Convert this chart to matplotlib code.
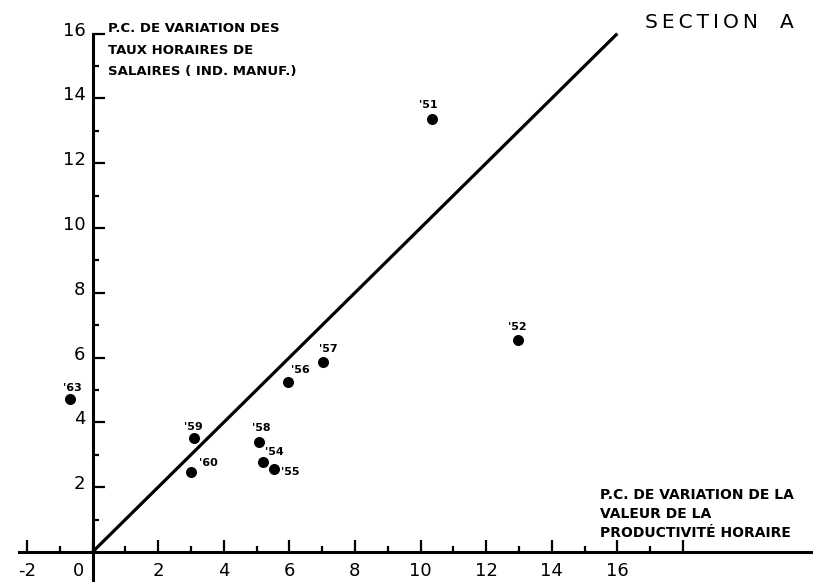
import matplotlib
matplotlib.use('Agg')
import matplotlib.pyplot as plt
from matplotlib.transforms import ScaledTranslation

# années et variations en p.c. (productivité horaire, taux horaires de salaires)
annees = ["'51", "'52", "'54", "'55", "'56", "'57", "'58", "'59", "'60", "'63"]
productivite = [10.35, 12.98, 5.21, 5.54, 5.97, 7.04, 5.09, 3.09, 3.00, -0.69]
salaires = [13.35, 6.54, 2.77, 2.56, 5.26, 5.87, 3.40, 3.51, 2.46, 4.72]

x_ticks = list(range(-2, 19, 2))
x_labels = ['-2', '0', '2', '4', '6', '8', '10', '12', '14', '16', '']
y_ticks = list(range(2, 17, 2))
y_labels = ['2', '4', '6', '8', '10', '12', '14', '16']

# décalage des étiquettes d'années (pixels)
decalages = [(-4, 14), (-1, 13), (11, 10), (16, -3), (12, 12),
             (5, 13), (2, 14), (0, 11), (17, 9), (3, 11)]

W, H = 813, 582
fig = plt.figure(figsize=(W / 100, H / 100), dpi=100)
ax = fig.add_axes([0, 0, 1, 1])

x0, sx = 92.5, 32.8
y0, sy = 552, 32.4
ax.set_xlim(-x0 / sx, (W - x0) / sx)
ax.set_ylim(-(H - y0) / sy, y0 / sy)

for s in ['top', 'right']:
    ax.spines[s].set_visible(False)
ax.spines['left'].set_position(('data', 0))
ax.spines['bottom'].set_position(('data', 0))
ax.spines['left'].set_bounds(ax.get_ylim()[0], 16)
ax.spines['bottom'].set_bounds(-2.25, ax.get_xlim()[1])
ax.spines['left'].set_linewidth(2.2)
ax.spines['bottom'].set_linewidth(2.2)

ax.set_xticks(x_ticks)
ax.set_xticklabels(x_labels)
ax.set_xticks(range(-1, 19, 2), minor=True)
ax.set_yticks(y_ticks)
ax.set_yticklabels(y_labels)
ax.set_yticks(range(1, 16, 2), minor=True)

ax.tick_params(which='major', direction='in', length=8.5, width=1.6, labelsize=13)
ax.tick_params(which='minor', direction='in', length=4, width=1.6)
ax.tick_params(axis='x', which='major', pad=7)
ax.tick_params(axis='y', which='major', pad=5)

# étiquettes de l'axe vertical un peu au-dessus des graduations
for t in ax.yaxis.get_major_ticks():
    t.label1.set_transform(t.label1.get_transform() + ScaledTranslation(0, 0.05, fig.dpi_scale_trans))
# le zéro à gauche de l'axe
t0 = ax.xaxis.get_major_ticks()[1]
t0.label1.set_transform(t0.label1.get_transform() + ScaledTranslation(-0.145, 0, fig.dpi_scale_trans))

# droite d'égalité
ax.plot([0, 16], [0, 16], color='black', lw=2.3, solid_capstyle='butt')

ax.scatter(productivite, salaires, s=48, color='black', zorder=3)
for lbl, x, y, (dx, dy) in zip(annees, productivite, salaires, decalages):
    ax.annotate(lbl, (x, y), xytext=(dx, dy), textcoords='offset pixels',
                ha='center', va='center', fontsize=8, fontweight='bold')

titre_y = ['P.C. DE VARIATION DES', 'TAUX HORAIRES DE', 'SALAIRES ( IND. MANUF.)']
for i, ligne in enumerate(titre_y):
    fig.text(108 / W, 1 - (29 + 21 * i) / H, ligne, ha='left', va='center',
             fontsize=9.5, fontweight='bold')

titre_x = ['P.C. DE VARIATION DE LA', 'VALEUR DE LA', 'PRODUCTIVITÉ HORAIRE']
for i, ligne in enumerate(titre_x):
    fig.text(600 / W, 1 - (495 + 19 * i) / H, ligne, ha='left', va='center',
             fontsize=10, fontweight='bold')

# lettres espacées avec des espaces fines
fig.text(645 / W, 1 - 22 / H, '\u2009'.join('SECTION'), ha='left', va='center', fontsize=14.5)
fig.text(780 / W, 1 - 22 / H, 'A', ha='left', va='center', fontsize=14.5)

fig.savefig('out.png', dpi=100)
